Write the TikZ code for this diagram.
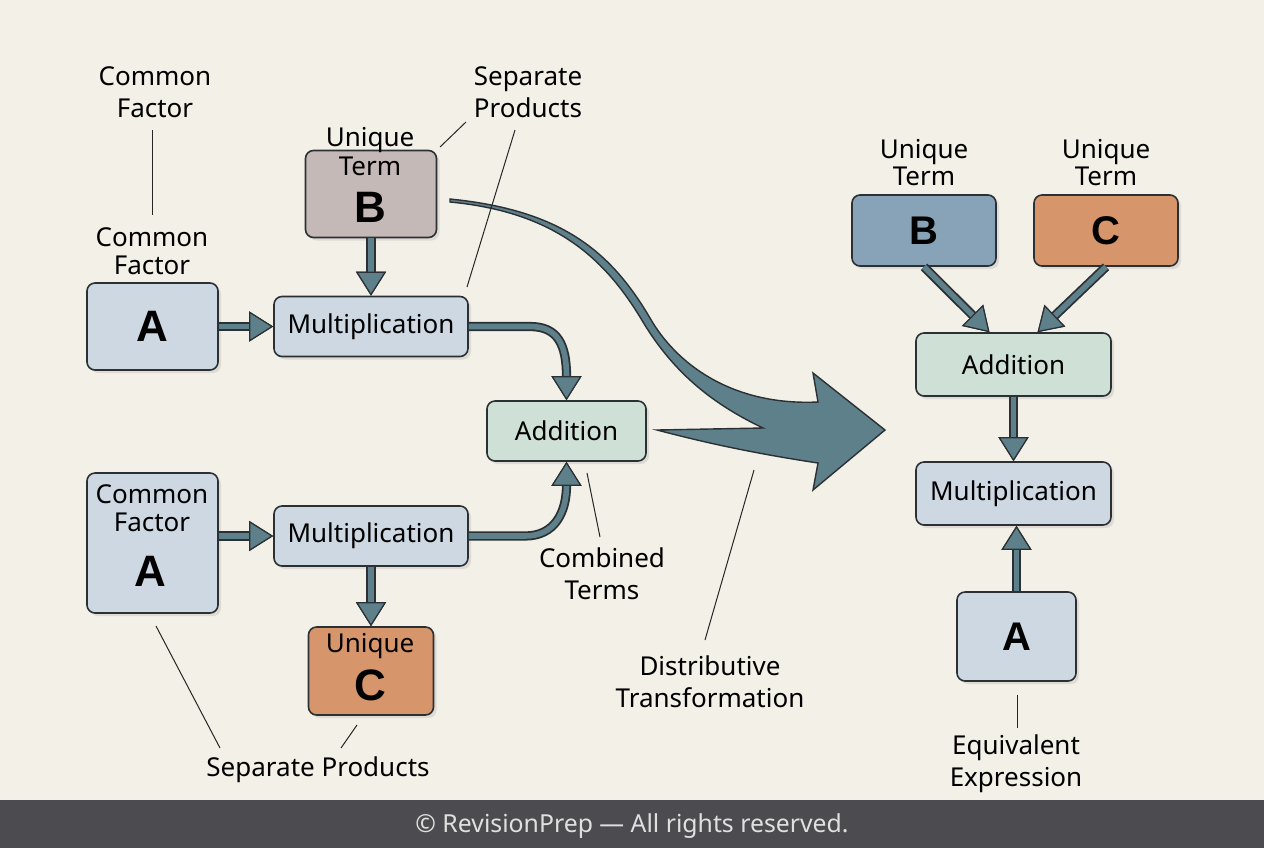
\documentclass[tikz,border=0pt]{standalone}
\usepackage{fontspec}
\setmainfont{Noto Sans}
\newfontfamily\letterfont{Liberation Sans}
\usetikzlibrary{positioning,arrows.meta,shadows}

\definecolor{paper}{HTML}{F3F0E8}
\definecolor{footbar}{HTML}{4B4B50}
\definecolor{edge}{HTML}{2B3034}
\definecolor{flowc}{HTML}{5E808A}
\definecolor{bluegrey}{HTML}{CDD8E3}
\definecolor{sage}{HTML}{CFE0D7}
\definecolor{mauve}{HTML}{C5B9B7}
\definecolor{clay}{HTML}{D6956B}
\definecolor{steel}{HTML}{88A3B8}

\tikzset{
  flowtip/.tip={Triangle[width=15pt,length=12pt,line width=0.6pt,color=edge,fill=flowc]},
  box/.style={draw=edge, line width=0.8pt, rounded corners=4pt, inner sep=0pt, align=center,
    font=\fontsize{13}{15}\selectfont,
    drop shadow={opacity=0.18, shadow xshift=1.5pt, shadow yshift=-1.5pt}},
  opbox/.style={box, minimum width=97pt, minimum height=30pt},
  termbox/.style={box, minimum width=65.5pt, minimum height=43.5pt,
    font=\letterfont\bfseries\fontsize{22}{24}\selectfont},
  smallterm/.style={font=\letterfont\bfseries\fontsize{20}{22}\selectfont},
  letter/.style={inner sep=0pt, font=\letterfont\bfseries\fontsize{22}{24}\selectfont},
  lbl/.style={inner sep=0pt, align=center, font=\fontsize{13}{16}\selectfont},
  tight/.style={font=\fontsize{13}{13.8}\selectfont},
  leader/.style={draw=black!85, line width=0.5pt},
  flow/.style={draw=edge, line width=4.6pt, -flowtip,
    postaction={draw=flowc, line width=2.8pt, -flowtip}},
}

\begin{document}
\begin{tikzpicture}[x=0.5pt,y=-0.5pt]
  \useasboundingbox (0,0) rectangle (1264,848);
  \fill[paper] (0,0) rectangle (1264,848);
  \fill[footbar] (0,800) rectangle (1264,848);
  \node[text=white!88!black, font=\fontsize{12.4}{14}\selectfont] (copy) at (632,826)
    {© RevisionPrep — All rights reserved.};

  % separate products, top row
  \node[termbox, fill=bluegrey] (A1) at (152.5,326.5) {A};
  \node[opbox, fill=bluegrey, on grid, right=109.25pt of A1] (M1) {Multiplication};
  \node[termbox, fill=mauve, on grid, above=66.25pt of M1] (B1) {};
  \node[lbl, font=\fontsize{13}{14.5}\selectfont] (B1t) at (370,152) {Unique\\Term};
  \node[letter] (B1l) at (370,207) {B};

  % separate products, bottom row
  \node[termbox, fill=bluegrey, minimum height=70pt] (A2) at (152.5,543) {};
  \node[lbl, tight] (A2t) at (152,508) {Common\\Factor};
  \node[letter] (A2l) at (150,571) {A};
  \node[opbox, fill=bluegrey] (M2) at (371,536) {Multiplication};
  \node[termbox, fill=clay, minimum width=62.5pt, minimum height=44pt, on grid, below=67.5pt of M2] (C1) {};
  \node[lbl] (C1t) at (370,646) {Unique};
  \node[letter] (C1l) at (370,685) {C};

  \node[opbox, fill=sage, minimum width=79.5pt] (Add1) at (566.5,431) {Addition};

  % distributive transformation
  \filldraw[fill=flowc, draw=edge, line width=0.7pt]
    (450,199) .. controls (560,210) and (610,250) .. (650,318)
    .. controls (675,362) and (730,406) .. (818,402)
    -- (813,373) -- (885,430) -- (813,490) -- (818,463)
    .. controls (745,452) and (695,440) .. (657,430)
    -- (763,428) .. controls (715,405) and (675,375) .. (643,322)
    .. controls (605,258) and (555,212) .. (450,202) -- cycle;

  \draw[flow] (A1) -- (M1);
  \draw[flow] (B1.south) -- (M1.north);
  \draw[flow] (A2.east |- M2) -- (M2.west);
  \draw[flow] (M2.south) -- (C1.north);
  \draw[flow] (M1.east) -- (530,326.5) .. controls (558,326.5) and (566.5,345) .. (Add1.north);
  \draw[flow] (M2.east) -- (525,536) .. controls (555,536) and (566.5,512) .. (Add1.south);

  % equivalent expression
  \node[box, fill=steel, minimum width=72pt, minimum height=35.5pt, smallterm] (B2) at (924,230.5) {B};
  \node[box, fill=clay, minimum width=72pt, minimum height=35.5pt, smallterm] (C2) at (1106,230.5) {C};
  \node[opbox, fill=sage, minimum width=97.5pt, minimum height=31.5pt] (Add2) at (1013.5,364.5) {Addition};
  \node[opbox, fill=bluegrey, minimum width=97.5pt, minimum height=31.5pt,
    on grid, below=64.5pt of Add2] (M3) {Multiplication};
  \node[termbox, fill=bluegrey, minimum width=59.5pt, minimum height=44.5pt, smallterm] (A3) at (1016.5,636.5) {A};
  \node[lbl, tight] (B2t) at (924,162.5) {Unique\\Term};
  \node[lbl, tight] (C2t) at (1106,162.5) {Unique\\Term};

  \draw[flow] (B2.south) -- ([xshift=-12pt]Add2.north);
  \draw[flow] (C2.south) -- ([xshift=12pt]Add2.north);
  \draw[flow] (Add2.south) -- (M3.north);
  \draw[flow] (A3.north) -- (A3.north |- M3.south);

  % labels and leaders
  \node[lbl] (cf1) at (155,92) {Common\\Factor};
  \node[lbl, tight] (cf2) at (152,251) {Common\\Factor};
  \node[lbl] (sp1) at (528,92) {Separate\\Products};
  \node[lbl] (ct) at (602,574) {Combined\\Terms};
  \node[lbl] (dt) at (710,682) {Distributive\\Transformation};
  \node[lbl] (sp2) at (318,770) {Separate Products};
  \node[lbl] (ee) at (1016,764) {Equivalent\\Expression};

  \draw[leader] (152,130) -- (152,215);
  \draw[leader] (440,147) -- (466,122);
  \draw[leader] (515,130) -- (467,287);
  \draw[leader] (600,537) -- (587,473);
  \draw[leader] (705,640) -- (754,470);
  \draw[leader] (220,748) -- (156,626);
  \draw[leader] (341,748) -- (357,725);
  \draw[leader] (1017,695) -- (1017,728);
\end{tikzpicture}
\end{document}
